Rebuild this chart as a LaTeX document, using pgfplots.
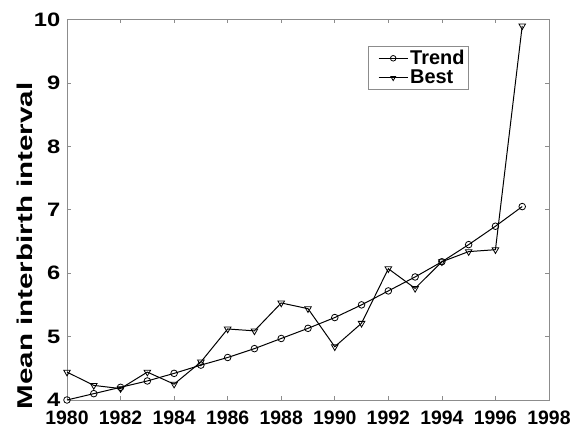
\documentclass[border=0pt]{standalone}
\usepackage{fontspec}
\setmainfont{Liberation Sans}
\newfontfamily\ytickfont[FakeStretch=1.22]{Liberation Sans}
\newfontfamily\ylabfont[FakeStretch=1.38]{Liberation Sans}
\usepackage{pgfplots}
\pgfplotsset{compat=1.18}
\usetikzlibrary{calc}
\begin{document}
\begin{tikzpicture}
\begin{axis}[
  scale only axis,
  width=482bp, height=380.5bp,
  xmin=1980, xmax=1998, ymin=4, ymax=10,
  xtick={1980,1982,...,1998}, ytick={4,5,...,10},
  /pgf/number format/assume math mode=true,
  /pgf/number format/1000 sep={},
  tick label style={font=\fontsize{19.5}{22}\selectfont\bfseries, black, inner sep=1bp},
  x tick label style={yshift=-9.5bp},
  y tick label style={font=\ytickfont\fontsize{19.5}{22}\selectfont\bfseries, xshift=-5.5bp},
  ylabel={Mean interbirth interval},
  ylabel style={font=\ylabfont\fontsize{21.5}{24}\selectfont\bfseries,
    at={(ticklabel cs:0.405)}, yshift=-3bp},
  axis line style={draw=gray!90},
  major tick style={draw=gray!90, line width=0.6pt},
  major tick length=4bp,
  tick align=inside,
  xtick pos=both, ytick pos=both,
  legend style={at={(0.6245,0.930)}, anchor=north west, draw=gray!90,
    font=\fontsize{20}{22}\selectfont\bfseries, inner sep=2bp,
    /tikz/every even column/.append style={column sep=5bp}},
  legend cell align=left,
  legend image code/.code={\path (0bp,0bp);
     \draw[mark repeat=2,mark phase=2,#1, mark size=2.8bp]
     plot coordinates {(8bp,0bp) (22.5bp,0bp) (37bp,0bp)};},
]
\coordinate (bl) at (rel axis cs:0,0);
\coordinate (tr) at (rel axis cs:1,1);
\addplot[black, line width=1pt, mark=o, mark size=3.3bp, mark options={line width=0.8pt}] coordinates {
(1980,4.00) (1981,4.10) (1982,4.20) (1983,4.30) (1984,4.42) (1985,4.55)
(1986,4.67) (1987,4.81) (1988,4.97) (1989,5.13) (1990,5.30) (1991,5.50)
(1992,5.72) (1993,5.94) (1994,6.18) (1995,6.45) (1996,6.74) (1997,7.05)};
\addlegendentry{Trend}
\addplot[black, line width=1pt, mark=triangle, mark size=3.8bp, mark options={rotate=180, line width=0.8pt}] coordinates {
(1980,4.44) (1981,4.23) (1982,4.18) (1983,4.44) (1984,4.25) (1985,4.60)
(1986,5.12) (1987,5.09) (1988,5.53) (1989,5.44) (1990,4.84) (1991,5.21)
(1992,6.07) (1993,5.76) (1994,6.18) (1995,6.34) (1996,6.37) (1997,9.90)};
\addlegendentry{Best}
\end{axis}
\pgfresetboundingbox
\path ($(bl)+(-67bp,-30bp)$) rectangle ($(tr)+(22bp,19.5bp)$);
\end{tikzpicture}
\end{document}
